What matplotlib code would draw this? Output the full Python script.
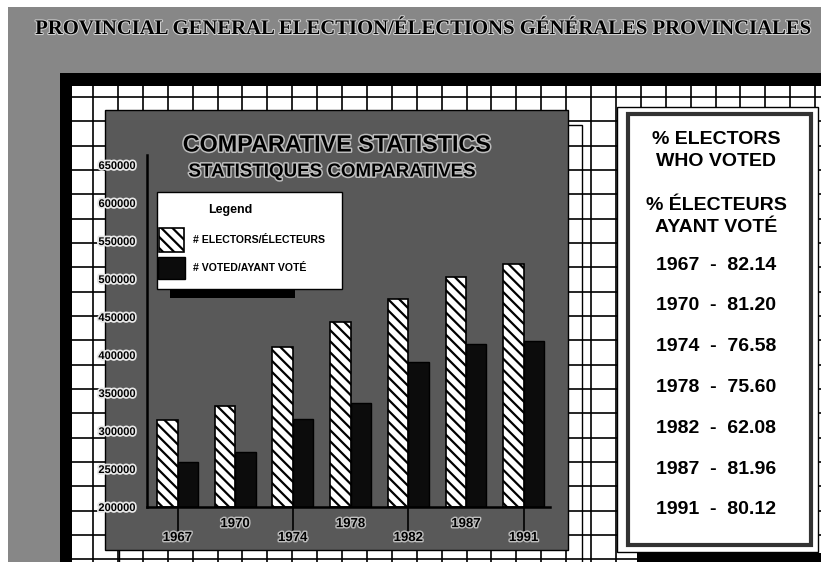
import matplotlib
matplotlib.use('Agg')
import matplotlib.pyplot as plt
from matplotlib.patches import Rectangle
import matplotlib.patheffects as pe
import numpy as np

# ---------------- data ----------------
years = ['1967', '1970', '1974', '1978', '1982', '1987', '1991']
electors = [315000, 333000, 410000, 443000, 474000, 502000, 520000]
voted = [259000, 272000, 316000, 337000, 391000, 414000, 418000]
turnout = ['82.14', '81.20', '76.58', '75.60', '62.08', '81.96', '80.12']
y_ticks = [200000, 250000, 300000, 350000, 400000, 450000, 500000, 550000, 600000, 650000]
series_labels = ['# ELECTORS/ÉLECTEURS', '# VOTED/AYANT VOTÉ']
main_title = 'PROVINCIAL GENERAL ELECTION/ÉLECTIONS GÉNÉRALES PROVINCIALES'
chart_title = ['COMPARATIVE STATISTICS', 'STATISTIQUES COMPARATIVES']
panel_header = ['% ELECTORS', 'WHO VOTED', '% ÉLECTEURS', 'AYANT VOTÉ']

W, H = 821, 562
SANS = ['Liberation Sans', 'DejaVu Sans']
SERIF = ['Liberation Serif', 'DejaVu Serif']
HATCH = '\\' * 3
plt.rcParams['hatch.linewidth'] = 1.6

fig = plt.figure(figsize=(W / 100, H / 100), dpi=100)
fig.patch.set_facecolor('white')

# background overlay in pixel coordinates
bg = fig.add_axes([0, 0, 1, 1], zorder=0)
bg.set_xlim(0, W); bg.set_ylim(H, 0); bg.axis('off')


def rect(ax, x0, y0, x1, y1, **kw):
    ax.add_patch(Rectangle((x0, y0), x1 - x0, y1 - y0, **kw))


rect(bg, 8, 7, W, H, facecolor='#878787', edgecolor='none', zorder=0)
rect(bg, 60, 73, W, H, facecolor='black', edgecolor='none', zorder=0.1)
rect(bg, 72, 86, W, H, facecolor='white', edgecolor='none', zorder=0.2)
bg.vlines(np.arange(93, W, 24.9), 86, H, color='black', lw=1.2, zorder=0.3)
bg.hlines(np.arange(97, H, 24.33), 72, W, color='black', lw=1.2, zorder=0.3)

# main title
t = bg.text(421, 29, main_title, ha='center', va='center', fontsize=15,
            fontweight='bold', family=SERIF, color='black', zorder=1,
            path_effects=[pe.withStroke(linewidth=1.5, foreground='#d0d0d0')])
fig.canvas.draw()
wpx = t.get_window_extent().width
t.set_fontsize(15 * 778 / wpx)

# chart panel (with offset outline)
rect(bg, 119, 125, 582, 565, facecolor='none', edgecolor='black', lw=1.0, zorder=0.4)
rect(bg, 105, 110, 568, 550, facecolor='#595959', edgecolor='black', lw=1.0, zorder=0.5)

# chart titles
halo = [pe.withStroke(linewidth=2.2, foreground='#bdbdbd')]
bg.text(337, 145, chart_title[0], ha='center', va='center', fontsize=16.8,
        fontweight='bold', family=SANS, color='black', path_effects=halo, zorder=1)
bg.text(332, 172, chart_title[1], ha='center', va='center', fontsize=13.5,
        fontweight='bold', family=SANS, color='black', path_effects=halo, zorder=1)

# ---------------- bar chart ----------------
left, right, bottom, top = 147, 550, 507, 155
ax = fig.add_axes([left / W, 1 - bottom / H, (right - left) / W, (bottom - top) / H], zorder=2)
ax.set_facecolor('none')
x = np.arange(len(years))
bw = 0.355
ymin = 200000
ymax = 200000 + (bottom - top) * (450000 / (507 - 165))
ax.bar(x - bw / 2, np.array(electors) - ymin, bw, bottom=ymin, color='white',
       edgecolor='black', hatch=HATCH, lw=1.2, label=series_labels[0])
ax.bar(x + bw / 2, np.array(voted) - ymin, bw, bottom=ymin, color='#0c0c0c',
       edgecolor='black', lw=1.0, label=series_labels[1])
ax.set_xlim(-(177.5 - left) / 57.7, 6 + (right - 523.7) / 57.7)
ax.set_ylim(ymin, ymax)
for s in ['top', 'right']:
    ax.spines[s].set_visible(False)
ax.spines['left'].set_linewidth(1.8)
ax.spines['bottom'].set_linewidth(1.8)

ax.set_yticks(y_ticks)
ax.set_yticklabels([str(v) for v in y_ticks])
ax.tick_params(axis='y', length=0, pad=8)
for lab in ax.get_yticklabels():
    lab.set_fontsize(8)
    lab.set_fontweight('bold')
    lab.set_family(SANS)
    lab.set_path_effects([pe.withStroke(linewidth=2.5, foreground='#e8e8e8')])

upper = [1, 3, 5]
lower = [0, 2, 4, 6]
ax.set_xticks(upper)
ax.set_xticklabels([years[i] for i in upper])
ax.set_xticks(lower, minor=True)
ax.set_xticklabels([years[i] for i in lower], minor=True)
ax.tick_params(axis='x', which='major', length=0, pad=8)
ax.tick_params(axis='x', which='minor', length=17, width=1.2, pad=1, color='black')
for lab in ax.get_xticklabels(minor=False) + ax.get_xticklabels(minor=True):
    lab.set_fontsize(9.5)
    lab.set_fontweight('bold')
    lab.set_family(SANS)
    lab.set_path_effects([pe.withStroke(linewidth=2.0, foreground='#bdbdbd')])

# ---------------- foreground overlay ----------------
fg = fig.add_axes([0, 0, 1, 1], zorder=3)
fg.set_facecolor('none')
fg.set_xlim(0, W); fg.set_ylim(H, 0); fg.axis('off')

# legend box
rect(fg, 170, 288, 295, 298, facecolor='black', edgecolor='none')
rect(fg, 157, 192, 342, 289, facecolor='white', edgecolor='black', lw=1.0)
fg.text(230, 210, 'Legend', ha='center', va='center', fontsize=9,
        fontweight='bold', family=SANS)
rect(fg, 159, 228, 184, 252, facecolor='white', edgecolor='black', lw=1.2,
     hatch=HATCH)
rect(fg, 158, 257, 185, 279, facecolor='#0c0c0c', edgecolor='black', lw=1.0)
fg.text(193, 240, series_labels[0], ha='left', va='center', fontsize=7.6,
        fontweight='bold', family=SANS)
fg.text(193, 268, series_labels[1], ha='left', va='center', fontsize=7.6,
        fontweight='bold', family=SANS)

# right panel
rect(fg, 637, 553, W, H, facecolor='black', edgecolor='none')
rect(fg, 617, 107, 818, 552, facecolor='white', edgecolor='black', lw=1.0)
rect(fg, 628, 114, 811, 545, facecolor='white', edgecolor='#333333', lw=3.0)
cx = 716
hy = [139, 162, 205, 227]
for txt, yy in zip(panel_header, hy):
    fg.text(cx, yy, txt, ha='center', va='center', fontsize=14,
            fontweight='bold', family=SANS)
for i, (yr, v) in enumerate(zip(years, turnout)):
    fg.text(cx, 265 + 40.8 * i, f'{yr}  -  {v}', ha='center', va='center',
            fontsize=14, fontweight='bold', family=SANS)

fig.savefig('out.png', dpi=100, facecolor='white')
